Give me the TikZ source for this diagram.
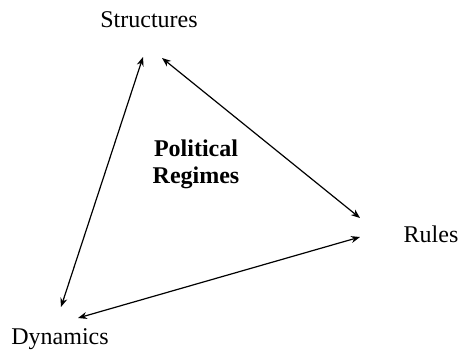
\documentclass[tikz,border=0pt]{standalone}
\usepackage{fontspec}
\setmainfont{Liberation Serif}
\usetikzlibrary{arrows.meta}
\tikzset{
  label text/.style={font=\fontsize{12}{13.5}\selectfont, anchor=base, inner sep=0pt},
  link/.style={line width=0.6pt, {Stealth[length=4.5pt,width=3.5pt]}-{Stealth[length=4.5pt,width=3.5pt]}}
}
\begin{document}
\begin{tikzpicture}[x=0.5pt, y=-0.5pt]
    \useasboundingbox (0,0) rectangle (459,349);

    % Labels at the corners
    \node[label text] (structures) at (149,27) {Structures};
    \node[label text] (rules) at (431,242) {Rules};
    \node[label text] (dynamics) at (60,344) {Dynamics};

    % Centre label
    \node[label text, font=\fontsize{12}{13.5}\selectfont\bfseries, align=center] (regimes) at (196,183) {Political\\Regimes};

    % Arrow ends
    \coordinate (s-left) at (143,57);
    \coordinate (s-right) at (162,58);
    \coordinate (r-top) at (360,218);
    \coordinate (r-bottom) at (360,237);
    \coordinate (d-top) at (61,307);
    \coordinate (d-right) at (78,318);

    % Double arrows
    \draw[link] (s-left) -- (d-top);
    \draw[link] (s-right) -- (r-top);
    \draw[link] (r-bottom) -- (d-right);
\end{tikzpicture}
\end{document}
